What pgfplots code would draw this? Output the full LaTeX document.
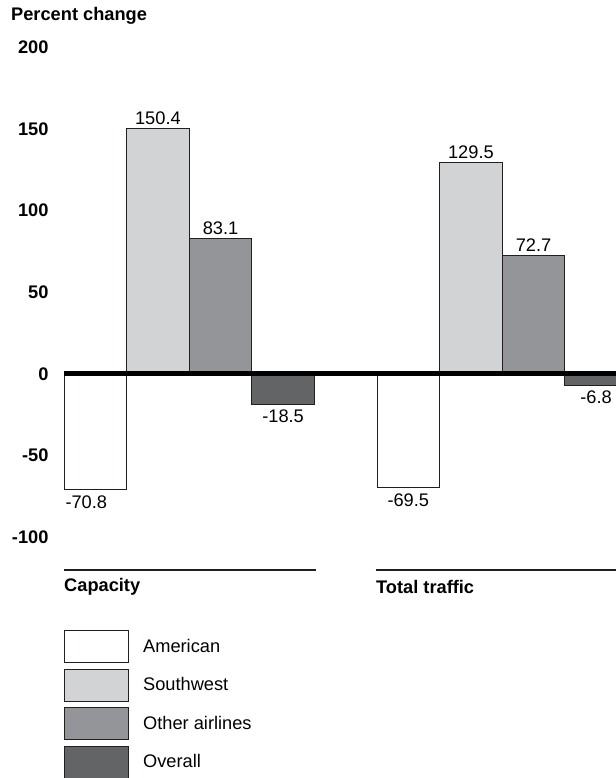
\documentclass[border=0pt]{standalone}
\usepackage{fontspec}
\setmainfont{Liberation Sans}
\usepackage{pgfplots}
\pgfplotsset{compat=1.18}
\definecolor{cSW}{HTML}{D1D3D4}
\definecolor{cOT}{HTML}{939598}
\definecolor{cOV}{HTML}{636466}
\definecolor{edge}{HTML}{231F20}
\newcommand{\fs}{\fontsize{18.3}{21}\selectfont}
\pgfplotsset{lg/.style={legend image code/.code={\draw[##1,draw=edge,line width=1bp] (0bp,-16bp) rectangle (64bp,16bp);}},
  neg/.style={every node near coord/.append style={anchor=north, inner sep=5.5bp}},
  pos/.style={every node near coord/.append style={anchor=south}}}
\begin{document}
\begin{tikzpicture}[x=1bp,y=1bp]
\begin{axis}[at={(64bp,0bp)}, anchor=south west, scale only axis,
  width=552bp, height=778bp, xmin=64, xmax=616, ymin=-247.35, ymax=228.98,
  clip mode=individual, axis line style={draw=none}, xtick=\empty,
  ytick={-100,-50,0,50,100,150,200}, yticklabels={-100,-50,0,50,100,150,200},
  major tick length=0pt,
  yticklabel style={font=\fs\bfseries, anchor=east, xshift=-12bp},
  point meta=explicit symbolic, nodes near coords,
  every node near coord/.append style={font=\fs, inner sep=3bp},
  legend style={at={(axis cs:64,-156.7)}, anchor=north west, draw=none, fill=none,
    inner sep=0pt, row sep=5.5bp, font=\fs, /tikz/every odd column/.append style={column sep=12bp}},
  legend cell align=left]
\addplot[ybar, bar width=62.6, bar shift=0pt, fill=white, draw=edge, line width=1bp, lg, neg]
  coordinates {(95.3,-70.8) [\hspace*{-18bp}-70.8] (408.3,-69.5) [-69.5]};
\addlegendentry{American}
\addplot[ybar, bar width=62.6, bar shift=0pt, fill=cSW, draw=edge, line width=1bp, lg, pos]
  coordinates {(157.9,150.4) [150.4] (470.9,129.5) [129.5]};
\addlegendentry{Southwest}
\addplot[ybar, bar width=62.6, bar shift=0pt, fill=cOT, draw=edge, line width=1bp, lg, pos]
  coordinates {(220.5,83.1) [83.1] (533.5,72.7) [72.7]};
\addlegendentry{Other airlines}
\addplot[ybar, bar width=62.6, bar shift=0pt, fill=cOV, draw=edge, line width=1bp, lg, neg]
  coordinates {(283.1,-18.5) [-18.5] (596.1,-6.8) [-6.8]};
\addlegendentry{Overall}
\draw[line width=5bp, black] (axis cs:64,0) -- (axis cs:616,0);
\node[anchor=west, font=\fs\bfseries, inner sep=0pt] at (axis cs:11,219.2) {Percent change};
\draw[line width=1.2bp, edge] (axis cs:64,-120) -- (axis cs:316,-120);
\draw[line width=1.2bp, edge] (axis cs:376,-120) -- (axis cs:616,-120);
\node[anchor=west, font=\fs\bfseries, inner sep=0pt] at (axis cs:64,-130.4) {Capacity};
\node[anchor=west, font=\fs\bfseries, inner sep=0pt] at (axis cs:376,-130.4) {Total traffic};
\end{axis}
\pgfresetboundingbox
\useasboundingbox (0,0) rectangle (616,778);
\end{tikzpicture}
\end{document}
